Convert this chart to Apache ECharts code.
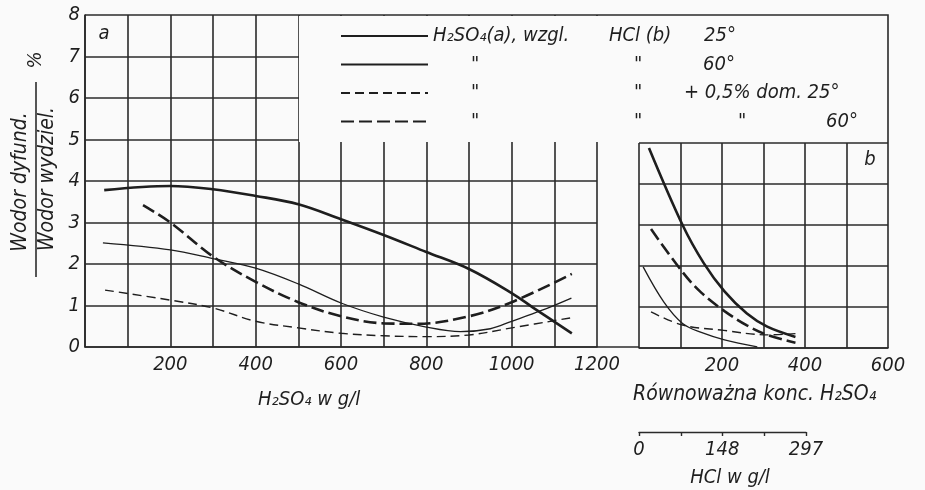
<!DOCTYPE html>
<html>
<head>
<meta charset="utf-8">
<script src="https://cdn.jsdelivr.net/npm/echarts@6/dist/echarts.min.js"></script>
<style>
html, body { margin: 0; padding: 0; background: #fafafa; }
#chart { width: 925px; height: 490px; }
</style>
</head>
<body>
<div id="chart"></div>
<script>
// [stezenie g/l, wodor dyfund./wodor wydziel. %]
const a25 = [[45, 3.78], [200, 3.88], [300, 3.8], [400, 3.64], [500, 3.44], [600, 3.08], [700, 2.7], [800, 2.29], [900, 1.88], [1000, 1.3], [1050, 0.95], [1141, 0.33]]
const a60 = [[42, 2.51], [200, 2.34], [300, 2.13], [400, 1.9], [500, 1.52], [600, 1.06], [700, 0.72], [800, 0.48], [880, 0.37], [950, 0.44], [1000, 0.62], [1070, 0.88], [1140, 1.18]]
const a25dom = [[47, 1.37], [200, 1.13], [300, 0.94], [400, 0.62], [500, 0.46], [600, 0.33], [700, 0.27], [800, 0.25], [900, 0.29], [1000, 0.46], [1137, 0.7]]
const a60dom = [[136, 3.42], [200, 3.0], [300, 2.18], [400, 1.57], [500, 1.08], [600, 0.74], [700, 0.57], [780, 0.56], [900, 0.74], [1000, 1.08], [1141, 1.76]]

// panel b: rownowazna konc. H2SO4
const b25 = [[24, 4.88], [105, 3.0], [156, 2.07], [206, 1.38], [260, 0.84], [309, 0.52], [377, 0.27]]
const b60 = [[10, 1.98], [60, 1.12], [105, 0.6], [150, 0.38], [206, 0.2], [285, 0.03]]
const b25dom = [[29, 0.88], [105, 0.56], [204, 0.43], [309, 0.32], [377, 0.35]]
const b60dom = [[29, 2.9], [105, 1.85], [150, 1.35], [206, 0.9], [260, 0.55], [309, 0.32], [377, 0.13]]

const xLabelsA = [200, 400, 600, 800, 1000, 1200]
const xLabelsB = [200, 400, 600]
const hclLabels = [0, 148, 297]
const hclTicks = [0, 74.25, 148.5, 222.75, 297]

const seriesNames = ['25a', '60a', '25dom', '60dom']
const legendRows = [
  '{w176|H₂SO₄(a), wzgl.}{w95|HCl (b)}{t|25°}',
  '{w38| }{w163|"}{w69|"}{t|60°}',
  '{w38| }{w163|"}{w50|"}{t|+ 0,5% dom. 25°}',
  '{w38| }{w163|"}{w104|"}{w88|"}{t|60°}'
]

const FONT = "'DejaVu Sans Condensed', 'DejaVu Sans', sans-serif"
const INK = '#1e1e1e'
const GRIDC = '#2a2a2a'

let lineStyles = [
  { width: 2.6, type: 'solid' },
  { width: 1.3, type: 'solid' },
  { width: 1.4, type: [9, 5] },
  { width: 2.6, type: [13, 5] }
]

let rich = { t: { fontSize: 20, fontStyle: 'italic', fontFamily: FONT, color: INK, lineHeight: 22 } }
for (let w of [176, 95, 38, 163, 69, 50, 104, 88]) {
  rich['w' + w] = { width: w, align: 'left', fontSize: 20, fontStyle: 'italic', fontFamily: FONT, color: INK, lineHeight: 22 }
}

let labelStyle = { color: INK, fontSize: 20, fontStyle: 'italic', fontFamily: FONT, formatter: (v) => String(v) }
let splitStyle = { show: true, lineStyle: { color: GRIDC, width: 1.6 } }

function makeSeries (name, data, idx, k) {
  return {
    name: name,
    type: 'line',
    xAxisIndex: idx,
    yAxisIndex: idx,
    data: data,
    smooth: 0.35,
    symbol: 'none',
    lineStyle: { color: INK, width: lineStyles[k].width, type: lineStyles[k].type },
    z: 5
  }
}

let series = [
  makeSeries('25a', a25, 0, 0),
  makeSeries('60a', a60, 0, 1),
  makeSeries('25dom', a25dom, 0, 2),
  makeSeries('60dom', a60dom, 0, 3),
  makeSeries('25b', b25, 1, 0),
  makeSeries('60b', b60, 1, 1),
  makeSeries('25domb', b25dom, 1, 2),
  makeSeries('60domb', b60dom, 1, 3)
]

let option = {
  animation: false,
  backgroundColor: '#fafafa',
  grid: [
    { left: 85, width: 512, top: 15, height: 332 },
    { left: 639, width: 249, top: 143, height: 205 },
    { left: 639, width: 167, top: 400, height: 32 }
  ],
  xAxis: [
    {
      gridIndex: 0, type: 'value', min: 0, max: 1200, interval: 100,
      axisLine: { show: true, lineStyle: { color: GRIDC, width: 1.6 } },
      axisTick: { show: false },
      splitLine: splitStyle,
      axisLabel: Object.assign({ customValues: xLabelsA, margin: 8 }, labelStyle)
    },
    {
      gridIndex: 1, type: 'value', min: 0, max: 600, interval: 100,
      axisLine: { show: true, lineStyle: { color: GRIDC, width: 1.6 } },
      axisTick: { show: false },
      splitLine: splitStyle,
      axisLabel: Object.assign({ customValues: xLabelsB, margin: 8 }, labelStyle)
    },
    {
      gridIndex: 2, type: 'value', min: 0, max: 297,
      axisLine: { show: true, lineStyle: { color: GRIDC, width: 1.4 } },
      axisTick: { show: true, customValues: hclTicks, length: 4, lineStyle: { color: GRIDC, width: 1.4 } },
      splitLine: { show: false },
      axisLabel: Object.assign({ customValues: hclLabels, margin: 8 }, labelStyle)
    }
  ],
  yAxis: [
    {
      gridIndex: 0, type: 'value', min: 0, max: 8, interval: 1,
      axisLine: { show: true, lineStyle: { color: GRIDC, width: 1.6 } },
      axisTick: { show: false },
      splitLine: splitStyle,
      axisLabel: Object.assign({ margin: 5 }, labelStyle)
    },
    {
      gridIndex: 1, type: 'value', min: 0, max: 5, interval: 1,
      axisLine: { show: false },
      axisTick: { show: false },
      splitLine: splitStyle,
      axisLabel: { show: false }
    },
    { gridIndex: 2, type: 'value', min: 0, max: 1, show: false }
  ],
  legend: {
    data: seriesNames,
    orient: 'vertical',
    left: 340,
    top: 26,
    padding: 0,
    itemWidth: 87,
    itemHeight: 14,
    itemGap: 8.5,
    z: 20,
    selectedMode: false,
    itemStyle: { opacity: 0 },
    formatter: function (name) {
      return legendRows[seriesNames.indexOf(name)]
    },
    textStyle: { rich: rich, color: INK }
  },
  graphic: [
    // pole legendy
    { type: 'rect', z: 10, shape: { x: 299, y: 16, width: 589, height: 126 }, style: { fill: '#fafafa' } },
    { type: 'polyline', z: 11, shape: { points: [[597, 15], [888, 15], [888, 143]] }, style: { stroke: GRIDC, lineWidth: 1.6, fill: null } },
    { type: 'line', z: 11, shape: { x1: 597, y1: 347, x2: 639, y2: 347 }, style: { stroke: GRIDC, lineWidth: 1.6 } },
    { type: 'text', z: 12, x: 104, y: 34, style: { text: 'a', font: 'italic 20px ' + FONT, fill: INK, align: 'center', verticalAlign: 'middle' } },
    { type: 'text', z: 12, x: 870, y: 160, style: { text: 'b', font: 'italic 20px ' + FONT, fill: INK, align: 'center', verticalAlign: 'middle' } },
    // opis osi y
    { type: 'text', z: 12, x: 21, y: 182, rotation: Math.PI / 2, style: { text: 'Wodor dyfund.', font: 'italic 21px ' + FONT, fill: INK, align: 'center', verticalAlign: 'middle' } },
    { type: 'text', z: 12, x: 48, y: 179, rotation: Math.PI / 2, style: { text: 'Wodor wydziel.', font: 'italic 21px ' + FONT, fill: INK, align: 'center', verticalAlign: 'middle' } },
    { type: 'line', z: 12, shape: { x1: 36, y1: 82, x2: 36, y2: 277 }, style: { stroke: INK, lineWidth: 1.5 } },
    { type: 'text', z: 12, x: 36, y: 60, rotation: Math.PI / 2, style: { text: '%', font: 'italic 20px ' + FONT, fill: INK, align: 'center', verticalAlign: 'middle' } },
    // opisy osi x
    { type: 'text', z: 12, x: 258, y: 400, style: { text: 'H₂SO₄ w g/l', font: 'italic 20px ' + FONT, fill: INK, align: 'left', verticalAlign: 'middle' } },
    { type: 'text', z: 12, x: 633, y: 395, style: { text: 'Równoważna konc. H₂SO₄', font: 'italic 21px ' + FONT, fill: INK, align: 'left', verticalAlign: 'middle' } },
    { type: 'text', z: 12, x: 730, y: 478, style: { text: 'HCl w g/l', font: 'italic 20px ' + FONT, fill: INK, align: 'center', verticalAlign: 'middle' } }
  ],
  series: series
}

let myChart = echarts.init(document.getElementById('chart'))
myChart.setOption(option)
</script>
</body>
</html>
